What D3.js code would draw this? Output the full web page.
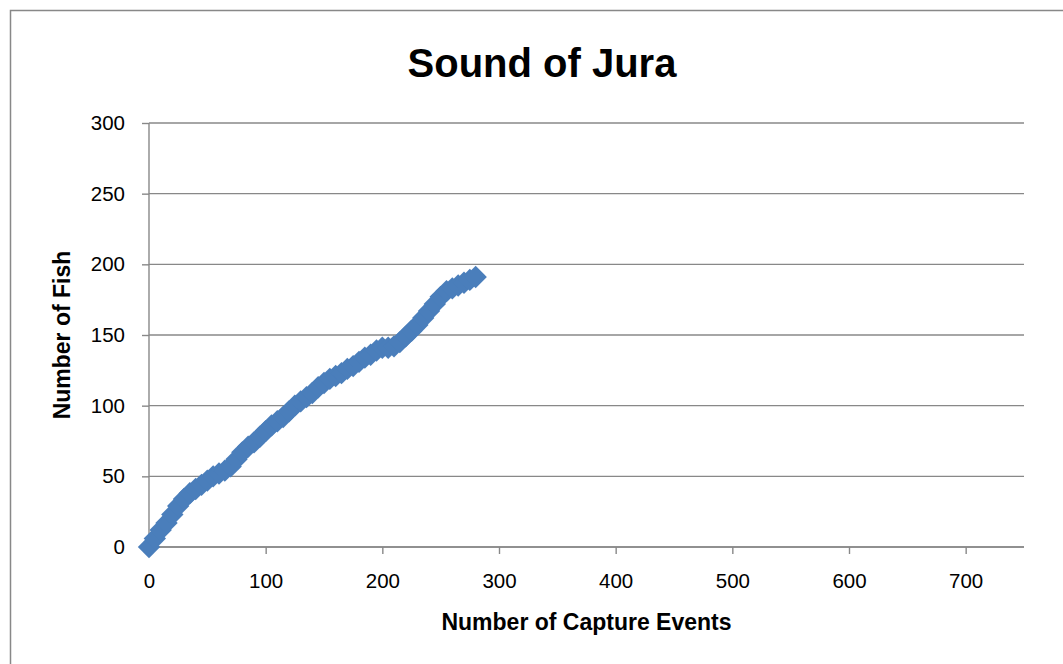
<!DOCTYPE html>
<html>
<head>
<meta charset="utf-8">
<script src="https://cdn.jsdelivr.net/npm/d3@7"></script>
<style>
  body { margin: 0; background: #fff; }
  svg text { font-family: "Liberation Sans", Arial, sans-serif; fill: #000; }
</style>
</head>
<body>
<svg id="chart" width="1063" height="664"></svg>
<script>
// capture events and cumulative number of fish
const captureEvents = [0, 5, 10, 15, 20, 25, 30, 35, 40, 45, 50, 55, 60, 65, 70, 75, 80, 85, 90, 95,
  100, 105, 110, 115, 120, 125, 130, 135, 140, 145, 150, 155, 160, 165, 170, 175, 180, 185, 190, 195,
  200, 205, 210, 215, 220, 225, 230, 235, 240, 245, 250, 255, 260, 265, 270, 275, 280];
const fishCount = [0, 6, 12, 17, 23, 29, 34, 38, 41, 44, 47, 50, 52, 54, 57, 62, 67, 71, 74, 78,
  82, 86, 89, 92, 96, 100, 103, 106, 109, 113, 116, 119, 121, 123, 126, 128, 131, 134, 136, 139,
  141, 141, 142, 145, 149, 153, 157, 162, 167, 172, 177, 181, 183, 185, 187, 189, 191];

const xTicks = [0, 100, 200, 300, 400, 500, 600, 700];
const yTicks = [0, 50, 100, 150, 200, 250, 300];

const chartTitle = "Sound of Jura";
const xTitle = "Number of Capture Events";
const yTitle = "Number of Fish";

const margin = {top: 123, right: 39, bottom: 117, left: 149};
const width = 1063 - margin.left - margin.right;
const height = 664 - margin.top - margin.bottom;

const svg = d3.select("#chart");

// outer chart border (runs off the right and bottom edges)
svg.append("rect")
  .attr("x", 10.5).attr("y", 10.5)
  .attr("width", 1100).attr("height", 700)
  .attr("fill", "none")
  .attr("stroke", "#888")
  .attr("stroke-width", 1.5);

const g = svg.append("g")
  .attr("transform", "translate(" + margin.left + "," + margin.top + ")");

const x = d3.scaleLinear().domain([0, 750]).range([0, width]);
const y = d3.scaleLinear().domain([0, 300]).range([height, 0]);

// horizontal gridlines
g.append("g")
  .selectAll("line")
  .data(yTicks)
  .join("line")
    .attr("x1", 0).attr("x2", width)
    .attr("y1", d => y(d)).attr("y2", d => y(d))
    .attr("stroke", "#888")
    .attr("stroke-width", 1.4);

const yAxis = g.append("g")
  .call(d3.axisLeft(y).tickValues(yTicks).tickSize(7).tickPadding(17));
const xAxis = g.append("g")
  .attr("transform", "translate(0," + height + ")")
  .call(d3.axisBottom(x).tickValues(xTicks).tickSize(7).tickPadding(19));

[xAxis, yAxis].forEach(ax => {
  ax.select(".domain").attr("stroke", "#888").attr("stroke-width", 1.4);
  ax.selectAll(".tick line").attr("stroke", "#888").attr("stroke-width", 1.4);
  ax.selectAll(".tick text")
    .style("font-family", "'Liberation Sans', Arial, sans-serif")
    .style("font-size", "20.5px")
    .attr("fill", "#000");
});
xAxis.select(".domain").attr("d", "M0,0H" + width);
yAxis.select(".domain").attr("d", "M0," + height + "V0");

// points: rotated squares, like the diamond markers
const pts = captureEvents.map((c, i) => ({c: c, f: fishCount[i]}));
g.append("g")
  .selectAll("path")
  .data(pts)
  .join("path")
    .attr("d", d3.symbol().type(d3.symbolSquare).size(250))
    .attr("transform", d => `translate(${x(d.c)},${y(d.f)}) rotate(45)`)
    .attr("fill", "#4a7ebb");

// titles
svg.append("text")
  .attr("x", 542).attr("y", 77)
  .attr("text-anchor", "middle")
  .style("font-size", "40px")
  .style("font-weight", "bold")
  .text(chartTitle);

svg.append("text")
  .attr("x", margin.left + width / 2).attr("y", 630)
  .attr("text-anchor", "middle")
  .style("font-size", "23px")
  .style("font-weight", "bold")
  .text(xTitle);

svg.append("text")
  .attr("transform", "translate(70," + (margin.top + height / 2) + ") rotate(-90)")
  .attr("text-anchor", "middle")
  .style("font-size", "23px")
  .style("font-weight", "bold")
  .text(yTitle);
</script>
</body>
</html>
